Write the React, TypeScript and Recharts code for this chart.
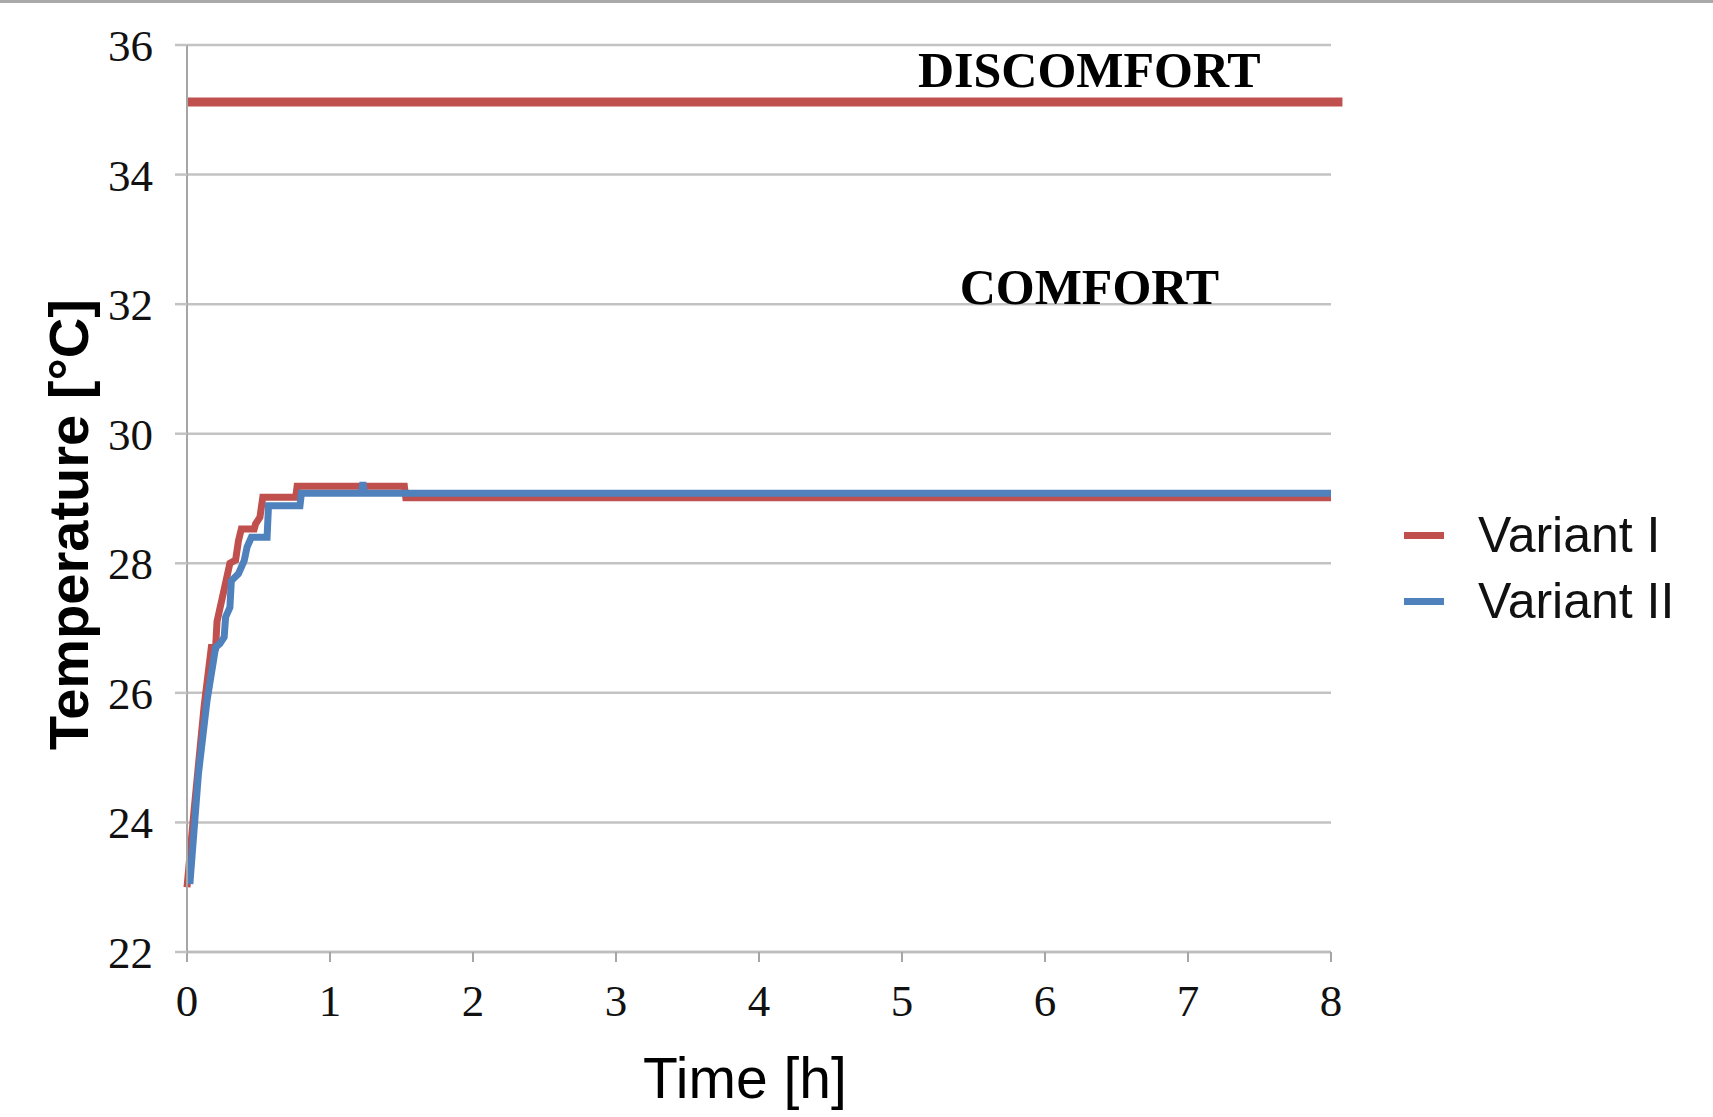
import React from 'react';
import { LineChart, Line, XAxis, YAxis, CartesianGrid, ReferenceLine, ReferenceDot, Legend, Label } from 'recharts';

// Variant I (red)
const variant1Time = [0, 0.05, 0.12, 0.17, 0.2, 0.21, 0.26, 0.3, 0.34, 0.36, 0.38, 0.47, 0.48, 0.51, 0.53, 0.76, 0.77, 1.52, 1.53, 8];
const variant1Temp = [23.0, 24.2, 25.8, 26.7, 26.7, 27.1, 27.6, 28.0, 28.05, 28.35, 28.53, 28.53, 28.61, 28.71, 29.02, 29.02, 29.19, 29.19, 29.01, 29.01];

// Variant II (blue)
const variant2Time = [0.02, 0.08, 0.14, 0.2, 0.23, 0.26, 0.27, 0.3, 0.31, 0.36, 0.4, 0.42, 0.45, 0.56, 0.57, 0.79, 0.8, 1.22, 1.23, 1.24, 8];
const variant2Temp = [23.05, 24.75, 25.88, 26.7, 26.76, 26.86, 27.17, 27.32, 27.73, 27.84, 28.04, 28.25, 28.4, 28.4, 28.89, 28.89, 29.08, 29.08, 29.25, 29.08, 29.08];

const xTicks = [0, 1, 2, 3, 4, 5, 6, 7, 8];
const yTicks = [22, 24, 26, 28, 30, 32, 34, 36];
const seriesNames = ['Variant I', 'Variant II'];
const seriesColors = ['#c0504d', '#4f81bd'];
const discomfortLevel = 35.12;
const zoneLabels = ['DISCOMFORT', 'COMFORT'];
const zoneLabelTime = [6.31, 6.31];
const zoneLabelTemp = [35.62, 32.27];

const data1 = variant1Time.map((t, i) => ({ t, v: variant1Temp[i] }));
const data2 = variant2Time.map((t, i) => ({ t, v: variant2Temp[i] }));

const YLabel = (props: any) => {
  const vb = props.viewBox || { x: 0, y: 45, width: 187, height: 907 };
  const cx = vb.x + 68;
  const cy = vb.y + vb.height / 2 + 26;
  return (
    <text x={cx} y={cy} transform={`rotate(-90 ${cx} ${cy})`} textAnchor="middle" dominantBaseline="central"
      fontFamily="Liberation Sans, Arial, sans-serif" fontWeight="bold" fontSize={56} fill="#000">
      Temperature [°C]
    </text>
  );
};

const XLabel = (props: any) => {
  const vb = props.viewBox || { x: 187, y: 952, width: 1144, height: 165 };
  const cx = vb.x + vb.width / 2 - 14;
  const y = vb.y + vb.height - 19;
  return (
    <text x={cx} y={y} textAnchor="middle" fontFamily="Liberation Sans, Arial, sans-serif" fontSize={57} fill="#000">
      Time [h]
    </text>
  );
};

const LegendContent = () => (
  <div style={{ display: 'flex', flexDirection: 'column' }}>
    {seriesNames.map((n, i) => (
      <div key={n} style={{ display: 'flex', alignItems: 'center', height: 66 }}>
        <div style={{ width: 40, height: 7, background: seriesColors[i], marginRight: 34 }} />
        <span style={{ fontFamily: 'Liberation Sans, Arial, sans-serif', fontSize: 50, color: '#111', whiteSpace: 'nowrap' }}>{n}</span>
      </div>
    ))}
  </div>
);

export default function App() {
  return (
    <div style={{ position: 'relative', width: 1713, height: 1117, background: '#fff' }}>
      <style>{'body{margin:0}'}</style>
      <div style={{ position: 'absolute', top: 0, left: 0, width: 1713, height: 3, background: '#a9a9a9' }} />
      <LineChart width={1713} height={1117} margin={{ top: 45, right: 382, bottom: 0, left: 0 }}>
        <CartesianGrid vertical={false} stroke="#c3c3c3" strokeWidth={2.5} />
        <XAxis type="number" dataKey="t" domain={[0, 8]} ticks={xTicks} height={165}
          axisLine={{ stroke: '#bdbdbd', strokeWidth: 2.5 }} tickLine={{ stroke: '#a6a6a6', strokeWidth: 2 }}
          tickSize={10} tickMargin={22}
          tick={{ fontSize: 45, fontFamily: 'Liberation Serif, Times New Roman, serif', fill: '#111' }}>
          <Label content={XLabel} />
        </XAxis>
        <YAxis type="number" domain={[22, 36]} ticks={yTicks} width={187}
          axisLine={{ stroke: '#a6a6a6', strokeWidth: 2 }} tickLine={{ stroke: '#c3c3c3', strokeWidth: 2.5 }}
          tickSize={12} tickMargin={22}
          tick={{ fontSize: 45, fontFamily: 'Liberation Serif, Times New Roman, serif', fill: '#111' }}>
          <Label content={YLabel} />
        </YAxis>
        <ReferenceLine ifOverflow="visible" stroke={seriesColors[0]} strokeWidth={9}
          segment={[{ x: 0, y: discomfortLevel }, { x: 8.08, y: discomfortLevel }]} />
        {zoneLabels.map((z, i) => (
          <ReferenceDot key={z} x={zoneLabelTime[i]} y={zoneLabelTemp[i]} r={0} fill="none" stroke="none" ifOverflow="visible">
            <Label value={z} position="center" fontFamily="Liberation Serif, Times New Roman, serif" fontWeight="bold" fontSize={50} fill="#000" />
          </ReferenceDot>
        ))}
        <Line data={data1} dataKey="v" name={seriesNames[0]} type="linear" stroke={seriesColors[0]} strokeWidth={7} dot={false} isAnimationActive={false} />
        <Line data={data2} dataKey="v" name={seriesNames[1]} type="linear" stroke={seriesColors[1]} strokeWidth={7} dot={false} isAnimationActive={false} />
        <Legend layout="vertical" align="center" verticalAlign="middle" wrapperStyle={{ left: 1404, top: 502, width: 300 }} content={LegendContent} />
      </LineChart>
    </div>
  );
}
